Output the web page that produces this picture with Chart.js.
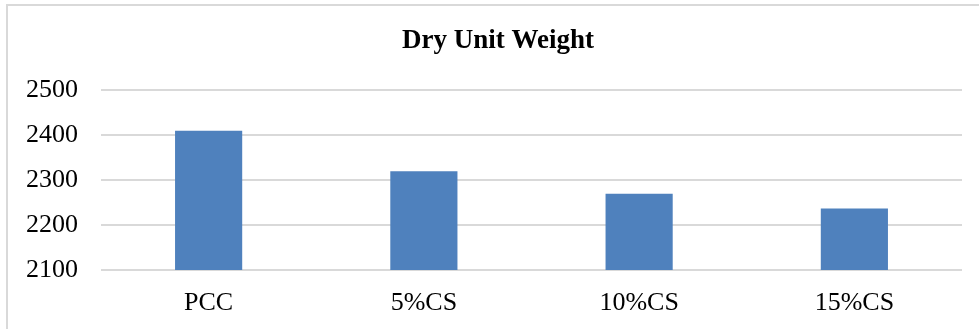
<!DOCTYPE html>
<html>
<head>
<meta charset="utf-8">
<script src="https://cdn.jsdelivr.net/npm/chart.js@4.4.1/dist/chart.umd.min.js"></script>
<style>
  html, body { margin: 0; padding: 0; background: #fff; }
  #wrap { position: relative; width: 979px; height: 329px; overflow: hidden; }
  #frame {
    position: absolute; left: 6px; top: 4px; width: 1000px; height: 400px;
    border-top: 2px solid #d9d9d9; border-left: 2px solid #d9d9d9;
  }
  #chart { position: absolute; left: 0; top: 0; }
</style>
</head>
<body>
<div id="wrap">
  <div id="frame"></div>
  <canvas id="chart" width="979" height="329"></canvas>
</div>
<script>
// Mixes and their measured dry unit weight
const categories = ['PCC', '5%CS', '10%CS', '15%CS'];
const dryUnitWeight = [2410, 2320, 2270, 2237];
const yTicks = [2100, 2200, 2300, 2400, 2500];

const serif = "'Liberation Serif', 'Times New Roman', serif";

// Let the value labels use the space left of the axis box instead of being clipped to it
const widenYLabelArea = {
  id: 'widenYLabelArea',
  afterLayout(chart) {
    chart.scales.y.left = 0;
  }
};

new Chart(document.getElementById('chart'), {
  type: 'bar',
  data: {
    labels: categories,
    datasets: [{
      label: 'Dry Unit Weight',
      data: dryUnitWeight,
      backgroundColor: '#4f81bd',
      borderWidth: 0,
      barPercentage: 0.312,
      categoryPercentage: 1.0
    }]
  },
  plugins: [widenYLabelArea],
  options: {
    responsive: false,
    animation: false,
    layout: { padding: { left: 34, right: 17, top: 0, bottom: 0 } },
    plugins: {
      legend: { display: false },
      tooltip: { enabled: false },
      title: {
        display: true,
        text: 'Dry Unit Weight',
        color: '#000',
        font: { family: serif, size: 27, weight: 'bold' },
        padding: { top: 25, bottom: 33 }
      }
    },
    scales: {
      x: {
        grid: { display: false, drawTicks: false },
        border: { display: false },
        afterFit: (axis) => { axis.height = 59; },
        ticks: {
          color: '#000',
          font: { family: serif, size: 26 },
          padding: 18,
          maxRotation: 0
        }
      },
      y: {
        min: yTicks[0],
        max: yTicks[yTicks.length - 1],
        afterBuildTicks: (axis) => { axis.ticks = yTicks.map(v => ({ value: v })); },
        afterFit: (axis) => { axis.width = 67; },
        grid: { color: '#d9d9d9', lineWidth: 2, drawTicks: false },
        border: { display: false },
        ticks: {
          color: '#000',
          font: { family: serif, size: 26 },
          padding: 23,
          callback: (value) => String(value)
        }
      }
    }
  }
});
</script>
</body>
</html>
